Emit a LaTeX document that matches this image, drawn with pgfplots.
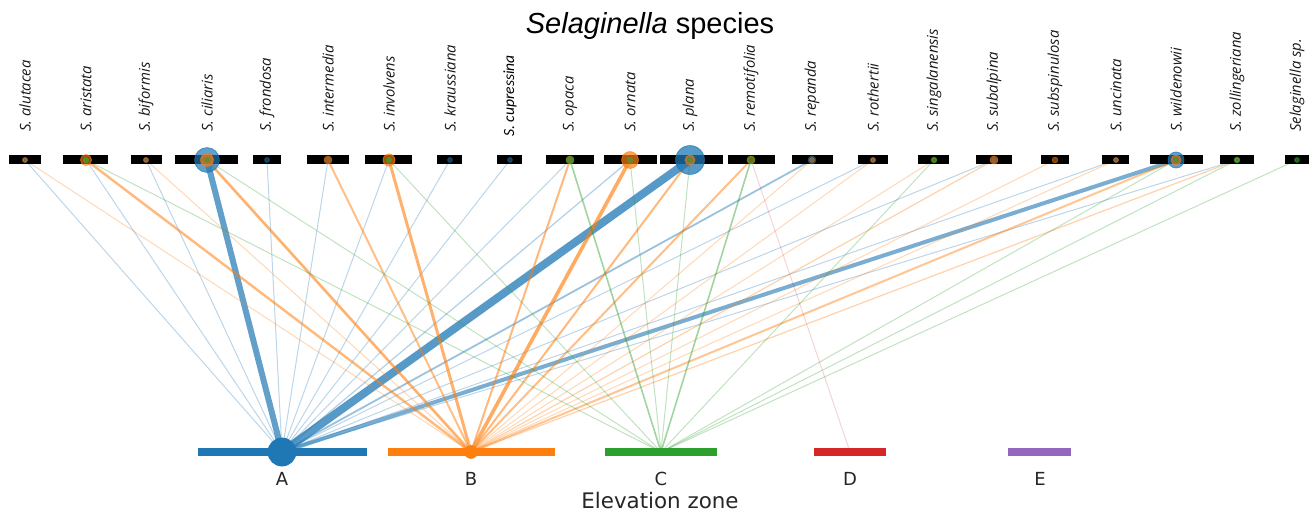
\documentclass[border=0pt]{standalone}
\usepackage{fontspec}
\usepackage{pgfplots}
\pgfplotsset{compat=1.18}
\setmainfont{Liberation Sans}
\newfontfamily\spfont{Open Sans}
\newfontfamily\dvfont{DejaVu Sans}
\newfontfamily\calfont{Carlito}
\definecolor{tA}{HTML}{1F77B4}
\definecolor{tB}{HTML}{FF7F0E}
\definecolor{tC}{HTML}{2CA02C}
\definecolor{tD}{HTML}{D62728}
\definecolor{tE}{HTML}{9467BD}
% \edge{species x}{zone x}{colour}{line width}{opacity}
\newcommand{\edge}[5]{\addplot[#3, line width=#4, opacity=#5] coordinates {(#1,355) (#2,63)};}
% \sbar{left}{right}
\newcommand{\sbar}[2]{\addplot[black, line width=4.5pt] coordinates {(#1,355) (#2,355)};}
% \ndot{x}{y}{colour}{radius}{opacity}
\newcommand{\ndot}[5]{\addplot[only marks, mark=*, mark size=#4, color=#3, opacity=#5] coordinates {(#1,#2)};}
\newcommand{\slab}[2]{\node[rotate=90, anchor=west, inner sep=0pt, font=\spfont\itshape\fontsize{7.4}{8}\selectfont, text=black!90] at (axis cs:#1,383) {#2};}
\begin{document}
\begin{tikzpicture}
\begin{axis}[scale only axis, width=658pt, height=257.5pt,
  xmin=0, xmax=1316, ymin=0, ymax=515, hide axis, clip=false]
\addplot[draw=none] coordinates {(0,0) (1316,515)};
% ---- edges to zone A (blue)
\edge{25}{282}{tA}{0.5pt}{0.3}
\edge{86}{282}{tA}{0.5pt}{0.3}
\edge{146}{282}{tA}{0.5pt}{0.3}
\edge{207}{282}{tA}{3pt}{0.7}
\edge{267}{282}{tA}{0.5pt}{0.3}
\edge{328}{282}{tA}{0.5pt}{0.3}
\edge{389}{282}{tA}{0.5pt}{0.3}
\edge{450}{282}{tA}{0.5pt}{0.3}
\edge{510}{282}{tA}{0.5pt}{0.3}
\edge{570}{282}{tA}{0.5pt}{0.3}
\edge{630}{282}{tA}{0.6pt}{0.35}
\edge{690}{282}{tA}{4pt}{0.75}
\edge{812}{282}{tA}{0.9pt}{0.45}
\edge{873}{282}{tA}{0.5pt}{0.3}
\edge{994}{282}{tA}{0.5pt}{0.3}
\edge{1116}{282}{tA}{0.5pt}{0.3}
\edge{1176}{282}{tA}{2pt}{0.6}
\edge{1237}{282}{tA}{0.5pt}{0.3}
% ---- edges to zone B (orange)
\edge{25}{471}{tB}{0.5pt}{0.3}
\edge{86}{471}{tB}{1.2pt}{0.55}
\edge{146}{471}{tB}{0.5pt}{0.3}
\edge{207}{471}{tB}{1.3pt}{0.6}
\edge{328}{471}{tB}{1pt}{0.5}
\edge{389}{471}{tB}{1.5pt}{0.6}
\edge{570}{471}{tB}{1pt}{0.55}
\edge{630}{471}{tB}{1.8pt}{0.65}
\edge{690}{471}{tB}{1pt}{0.55}
\edge{751}{471}{tB}{1pt}{0.5}
\edge{812}{471}{tB}{0.5pt}{0.3}
\edge{873}{471}{tB}{0.5pt}{0.3}
\edge{934}{471}{tB}{0.5pt}{0.3}
\edge{994}{471}{tB}{0.6pt}{0.35}
\edge{1055}{471}{tB}{0.5pt}{0.3}
\edge{1116}{471}{tB}{0.5pt}{0.3}
\edge{1176}{471}{tB}{1pt}{0.45}
\edge{1237}{471}{tB}{0.6pt}{0.35}
% ---- edges to zone C (green)
\edge{86}{661}{tC}{0.5pt}{0.3}
\edge{207}{661}{tC}{0.5pt}{0.3}
\edge{389}{661}{tC}{0.5pt}{0.3}
\edge{570}{661}{tC}{0.8pt}{0.45}
\edge{630}{661}{tC}{0.5pt}{0.3}
\edge{690}{661}{tC}{0.5pt}{0.3}
\edge{751}{661}{tC}{0.8pt}{0.45}
\edge{934}{661}{tC}{0.5pt}{0.3}
\edge{1176}{661}{tC}{0.5pt}{0.3}
\edge{1237}{661}{tC}{0.5pt}{0.3}
\edge{1297}{661}{tC}{0.5pt}{0.3}
% ---- edge to zone D (red)
\edge{751}{850}{tD}{0.5pt}{0.2}
% ---- species bars
\sbar{9}{41}\sbar{63}{108}\sbar{131}{162}\sbar{175}{238}\sbar{253}{281}
\sbar{307}{349}\sbar{365}{412}\sbar{437}{462}\sbar{497}{522}\sbar{546}{594}
\sbar{604}{657}\sbar{660}{723}\sbar{728}{775}\sbar{792}{833}\sbar{858}{888}
\sbar{918}{949}\sbar{976}{1012}\sbar{1041}{1069}\sbar{1102}{1129}\sbar{1150}{1203}
\sbar{1220}{1254}\sbar{1285}{1309}
% ---- zone bars
\addplot[tA, line width=4pt] coordinates {(198,63) (367,63)};
\addplot[tB, line width=4pt] coordinates {(388,63) (555,63)};
\addplot[tC, line width=4pt] coordinates {(605,63) (717,63)};
\addplot[tD, line width=4pt] coordinates {(814,63) (886,63)};
\addplot[tE, line width=4pt] coordinates {(1008,63) (1071,63)};
% ---- zone nodes
\ndot{282}{63}{tA}{7pt}{1}
\ndot{471}{63}{tB}{3.2pt}{1}
\ndot{661}{63}{tC}{1pt}{1}
% ---- species nodes, zone A
\ndot{25}{355}{tA}{1.2pt}{0.5}
\ndot{86}{355}{tA}{1.2pt}{0.5}
\ndot{146}{355}{tA}{1.2pt}{0.5}
\ndot{207}{355}{tA}{6.2pt}{0.7}
\ndot{267}{355}{tA}{1.2pt}{0.5}
\ndot{328}{355}{tA}{1.2pt}{0.5}
\ndot{389}{355}{tA}{1.2pt}{0.5}
\ndot{450}{355}{tA}{1.2pt}{0.5}
\ndot{510}{355}{tA}{1.2pt}{0.5}
\ndot{570}{355}{tA}{1.2pt}{0.5}
\ndot{630}{355}{tA}{1.4pt}{0.5}
\ndot{690}{355}{tA}{7.2pt}{0.75}
\ndot{812}{355}{tA}{2pt}{0.5}
\ndot{873}{355}{tA}{1.2pt}{0.5}
\ndot{994}{355}{tA}{1.2pt}{0.5}
\ndot{1116}{355}{tA}{1.2pt}{0.5}
\ndot{1176}{355}{tA}{4pt}{0.7}
\ndot{1237}{355}{tA}{1.2pt}{0.5}
% ---- species nodes, zone B
\ndot{25}{355}{tB}{1.2pt}{0.5}
\ndot{86}{355}{tB}{2.8pt}{0.6}
\ndot{146}{355}{tB}{1.2pt}{0.5}
\ndot{207}{355}{tB}{3.2pt}{0.7}
\ndot{328}{355}{tB}{2pt}{0.55}
\ndot{389}{355}{tB}{3pt}{0.65}
\ndot{570}{355}{tB}{2pt}{0.55}
\ndot{630}{355}{tB}{4.2pt}{0.7}
\ndot{690}{355}{tB}{2.5pt}{0.6}
\ndot{751}{355}{tB}{2pt}{0.55}
\ndot{812}{355}{tB}{1.2pt}{0.5}
\ndot{873}{355}{tB}{1.2pt}{0.5}
\ndot{934}{355}{tB}{1.2pt}{0.5}
\ndot{994}{355}{tB}{2pt}{0.55}
\ndot{1055}{355}{tB}{1.4pt}{0.5}
\ndot{1116}{355}{tB}{1.2pt}{0.5}
\ndot{1176}{355}{tB}{2.5pt}{0.6}
\ndot{1237}{355}{tB}{1.2pt}{0.5}
% ---- species nodes, zone C
\ndot{86}{355}{tC}{1.3pt}{0.6}
\ndot{207}{355}{tC}{1.2pt}{0.5}
\ndot{389}{355}{tC}{1.3pt}{0.6}
\ndot{570}{355}{tC}{1.8pt}{0.6}
\ndot{630}{355}{tC}{1.3pt}{0.55}
\ndot{690}{355}{tC}{1.2pt}{0.5}
\ndot{751}{355}{tC}{1.8pt}{0.6}
\ndot{934}{355}{tC}{1.4pt}{0.6}
\ndot{1176}{355}{tC}{1.2pt}{0.5}
\ndot{1237}{355}{tC}{1.4pt}{0.6}
\ndot{1297}{355}{tC}{1.2pt}{0.6}
% ---- species nodes, zone D
\ndot{751}{355}{tD}{0.8pt}{0.3}
% ---- labels
\slab{25}{S. alutacea}
\slab{86}{S. aristata}
\slab{146}{S. biformis}
\slab{207}{S. ciliaris}
\slab{267}{S. frondosa}
\slab{328}{S. intermedia}
\slab{389}{S. involvens}
\slab{450}{S. kraussiana}
\node[rotate=90, anchor=west, inner sep=0pt, font=\calfont\itshape\fontsize{7.8}{8}\selectfont, text=black] at (axis cs:510,378) {S. cupressina};
\slab{570}{S. opaca}
\slab{630}{S. ornata}
\slab{690}{S. plana}
\slab{751}{S. remotifolia}
\slab{812}{S. repanda}
\slab{873}{S. rothertii}
\slab{934}{S. singalanensis}
\slab{994}{S. subalpina}
\slab{1055}{S. subspinulosa}
\slab{1116}{S. uncinata}
\slab{1176}{S. wildenowii}
\slab{1237}{S. zollingeriana}
\slab{1297}{Selaginella sp.}
\node[anchor=base, inner sep=0pt, font=\fontsize{14.5}{16}\selectfont] at (axis cs:650,481) {\textit{Selaginella} species};
\node[anchor=base, inner sep=0pt, font=\dvfont\fontsize{9}{10}\selectfont, text=black!85] at (axis cs:282,30) {A};
\node[anchor=base, inner sep=0pt, font=\dvfont\fontsize{9}{10}\selectfont, text=black!85] at (axis cs:471,30) {B};
\node[anchor=base, inner sep=0pt, font=\dvfont\fontsize{9}{10}\selectfont, text=black!85] at (axis cs:661,30) {C};
\node[anchor=base, inner sep=0pt, font=\dvfont\fontsize{9}{10}\selectfont, text=black!85] at (axis cs:850,30) {D};
\node[anchor=base, inner sep=0pt, font=\dvfont\fontsize{9}{10}\selectfont, text=black!85] at (axis cs:1040,30) {E};
\node[anchor=base, inner sep=0pt, font=\dvfont\fontsize{10.7}{12}\selectfont, text=black!85] at (axis cs:660,7) {Elevation zone};
\end{axis}
\end{tikzpicture}
\end{document}
